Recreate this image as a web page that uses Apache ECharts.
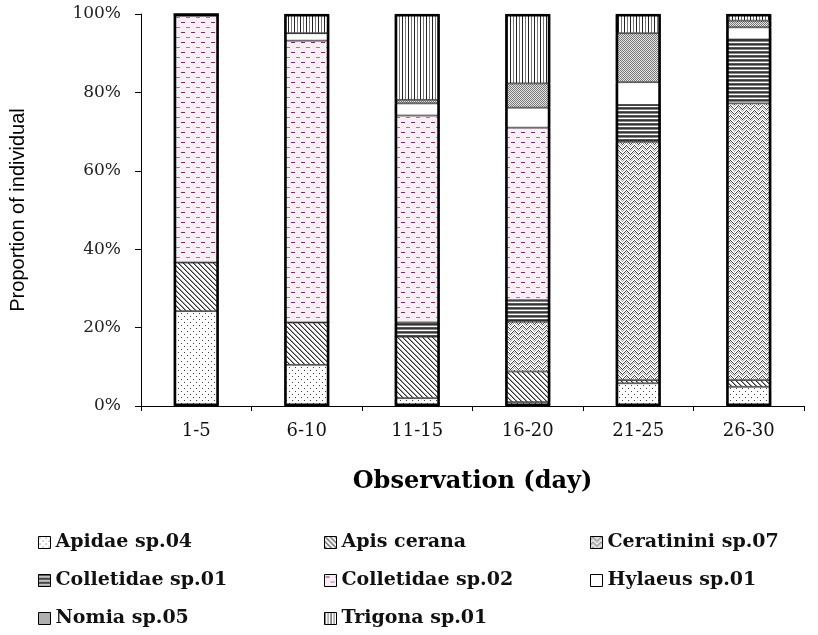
<!DOCTYPE html>
<html>
<head>
<meta charset="utf-8">
<script src="https://cdn.jsdelivr.net/npm/echarts@6/dist/echarts.min.js"></script>
<style>html,body{margin:0;padding:0;background:#fff;}#c{width:818px;height:635px;}</style>
</head>
<body>
<div id="c"></div>
<script>
// ---- data ----
const categories = ['1-5', '6-10', '11-15', '16-20', '21-25', '26-30'];
const apidae04     = [24.2, 10.5, 2.0, 1.0, 5.8, 4.9];
const apisCerana   = [12.4, 10.8, 15.7, 7.8, 0.8, 1.7];
const ceratinini07 = [0, 0, 0, 12.7, 60.8, 70.6];
const colletidae01 = [0, 0, 3.6, 5.5, 9.4, 16.3];
const colletidae02 = [63.4, 71.9, 52.8, 44.0, 0, 0];
const hylaeus01    = [0, 1.9, 3.1, 5.1, 5.8, 3.1];
const nomia05      = [0, 0, 0.9, 6.2, 12.5, 1.7];
const trigona01    = [0, 4.9, 21.9, 17.7, 4.9, 1.7];
const yTicks = [0, 20, 40, 60, 80, 100];

// ---- patterns ----
function pat(w, h, bg, draw) {
  const c = document.createElement('canvas');
  c.width = w; c.height = h;
  const g = c.getContext('2d');
  g.fillStyle = bg; g.fillRect(0, 0, w, h);
  draw(g);
  return { image: c, repeat: 'repeat' };
}
const pDots = pat(6, 6, '#ffffff', g => {
  g.fillStyle = '#444'; g.fillRect(1, 1, 1, 1); g.fillRect(4, 4, 1, 1);
});
const pDiag = pat(5, 5, '#ffffff', g => {
  g.fillStyle = '#333';
  for (let i = 0; i < 5; i++) { g.fillRect(i, i, 1, 1); }
  g.fillStyle = '#999';
  for (let i = 0; i < 5; i++) { g.fillRect((i + 1) % 5, i, 1, 1); }
});
const pWave = pat(8, 5, '#ffffff', g => {
  g.fillStyle = '#444';
  const ys = [2, 1, 0, 1, 2, 3, 4, 3];
  for (let x = 0; x < 8; x++) g.fillRect(x, ys[x], 1, 1);
  g.fillStyle = '#aaa';
  for (let x = 0; x < 8; x++) g.fillRect(x, (ys[x] + 2) % 5, 1, 1);
});
const pHoriz = pat(4, 4, '#ffffff', g => {
  g.fillStyle = '#333'; g.fillRect(0, 0, 4, 1);
  g.fillStyle = '#888'; g.fillRect(0, 1, 4, 1);
  g.fillStyle = '#555'; g.fillRect(0, 3, 4, 1);
});
const pPink = pat(10, 10, '#f8eef6', g => {
  g.fillStyle = '#7a2a68'; g.fillRect(1, 2, 4, 1);
  g.fillStyle = '#a07898'; g.fillRect(6, 7, 4, 1);
});
const pWhite = '#ffffff';
const pGrey = pat(2, 2, '#e4e4e4', g => {
  g.fillStyle = '#7a7a7a'; g.fillRect(0, 0, 1, 1); g.fillRect(1, 1, 1, 1);
});
const pVert = pat(6, 4, '#ffffff', g => {
  g.fillStyle = '#222'; g.fillRect(0, 0, 1, 4);
  g.fillStyle = '#777'; g.fillRect(3, 0, 1, 4);
});

const seriesDefs = [
  ['Apidae sp.04', apidae04, pDots],
  ['Apis cerana', apisCerana, pDiag],
  ['Ceratinini sp.07', ceratinini07, pWave],
  ['Colletidae sp.01', colletidae01, pHoriz],
  ['Colletidae sp.02', colletidae02, pPink],
  ['Hylaeus sp.01', hylaeus01, pWhite],
  ['Nomia sp.05', nomia05, pGrey],
  ['Trigona sp.01', trigona01, pVert]
];

const series = seriesDefs.map(([name, data, fill]) => ({
  name, type: 'bar', stack: 'all', data,
  barWidth: 45,
  itemStyle: { color: fill, borderColor: '#333', borderWidth: 0.8 },
  emphasis: { disabled: true }
}));
// outline of each whole bar
series.push({
  name: 'outline', type: 'bar', data: categories.map(() => 100),
  barWidth: 45, barGap: '-100%', z: 5, silent: true,
  itemStyle: { color: 'rgba(0,0,0,0)', borderColor: '#000', borderWidth: 2.5 }
});

const legendFont = { fontFamily: 'DejaVu Serif', fontWeight: 'bold', fontSize: 19, color: '#111' };
const legendBase = {
  orient: 'vertical', top: 528, itemGap: 19, itemWidth: 12, itemHeight: 12,
  icon: 'rect', textStyle: legendFont,
  itemStyle: { borderColor: '#000', borderWidth: 1 }
};

const chart = echarts.init(document.getElementById('c'), null, { renderer: 'canvas' });
chart.setOption({
  animation: false,
  backgroundColor: '#fff',
  grid: { left: 140, right: 14, top: 14, bottom: 229, containLabel: false },
  xAxis: {
    type: 'category', data: categories,
    axisLine: { lineStyle: { color: '#000', width: 1 } },
    axisTick: { show: true, alignWithLabel: false, length: 5, lineStyle: { color: '#000' } },
    axisLabel: { fontFamily: 'DejaVu Serif', fontSize: 18, color: '#111', margin: 16 },
    name: 'Observation (day)', nameLocation: 'middle', nameGap: 64,
    nameTextStyle: { fontFamily: 'DejaVu Serif', fontWeight: 'bold', fontSize: 24, color: '#000' }
  },
  yAxis: {
    type: 'value', min: 0, max: 100, interval: 20,
    axisLine: { show: true, lineStyle: { color: '#000', width: 1 } },
    axisTick: { show: true, length: 6, lineStyle: { color: '#000' } },
    splitLine: { show: false },
    axisLabel: {
      fontFamily: 'DejaVu Serif', fontSize: 17, color: '#222', margin: 20,
      formatter: v => yTicks.includes(v) ? v + '%' : ''
    },
    name: 'Proportion of individual', nameLocation: 'middle', nameGap: 113,
    nameTextStyle: { fontFamily: 'Liberation Sans', fontSize: 20, color: '#000' }
  },
  legend: [
    Object.assign({}, legendBase, { left: 33, data: ['Apidae sp.04', 'Colletidae sp.01', 'Nomia sp.05'] }),
    Object.assign({}, legendBase, { left: 319, data: ['Apis cerana', 'Colletidae sp.02', 'Trigona sp.01'] }),
    Object.assign({}, legendBase, { left: 585, data: ['Ceratinini sp.07', 'Hylaeus sp.01'] })
  ],
  series
});
</script>
</body>
</html>
